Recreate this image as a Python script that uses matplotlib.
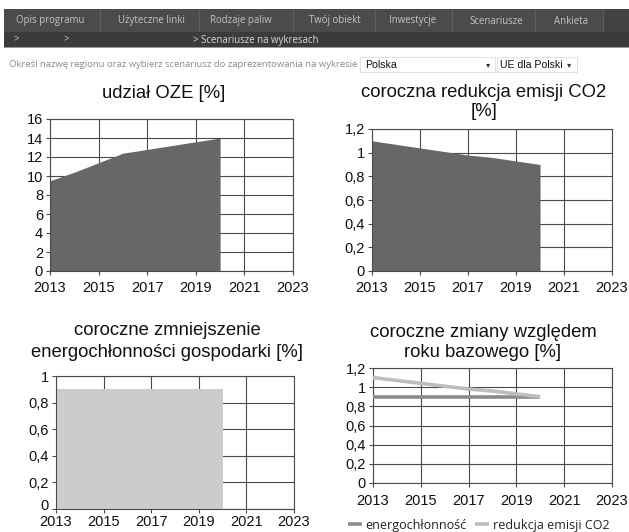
import matplotlib
matplotlib.use("Agg")
import matplotlib.pyplot as plt
from matplotlib.patches import Rectangle
from matplotlib.transforms import ScaledTranslation

# ---------------- data ----------------
years = [2013, 2014, 2015, 2016, 2017, 2018, 2019, 2020]
oze_share = [9.5, 10.4, 11.4, 12.4, 12.8, 13.2, 13.6, 14.0]
co2_reduction = [1.10, 1.07, 1.04, 1.01, 0.98, 0.96, 0.93, 0.90]
energy_intensity = [0.90, 0.90, 0.90, 0.90, 0.90, 0.90, 0.90, 0.90]

x_ticks = [2013, 2015, 2017, 2019, 2021, 2023]
y_ticks_oze = [0, 2, 4, 6, 8, 10, 12, 14, 16]
y_ticks_co2 = [0, 0.2, 0.4, 0.6, 0.8, 1.0, 1.2]
y_labels_co2 = ["0", "0,2", "0,4", "0,6", "0,8", "1", "1,2"]
y_ticks_en = [0, 0.2, 0.4, 0.6, 0.8, 1.0]
y_labels_en = ["0", "0,2", "0,4", "0,6", "0,8", "1"]

titles = ["udział OZE [%]",
          "coroczna redukcja emisji CO2\n[%]",
          "coroczne zmniejszenie\nenergochłonności gospodarki [%]",
          "coroczne zmiany względem\nroku bazowego [%]"]
legend_labels = ["energochłonność", "redukcja emisji CO2"]

menu_items = ["Opis programu", "Użyteczne linki", "Rodzaje paliw", "Twój obiekt",
              "Inwestycje", "Scenariusze", "Ankieta"]
breadcrumb = "> Scenariusze na wykresach"
prompt = "Określ nazwę regionu oraz wybierz scenariusz do zaprezentowania na wykresie"
region = "Polska"
scenario = "UE dla Polski"

# ---------------- layout helpers ----------------
W, H = 629, 532
fig = plt.figure(figsize=(W / 100, H / 100), dpi=100)
fig.patch.set_facecolor("white")


def rect(l, t, r, b):
    return [l / W, 1 - b / H, (r - l) / W, (b - t) / H]


def fx(x):
    return x / W


def fy(y):
    return 1 - y / H


def frect(l, t, r, b, **kw):
    fig.patches.append(Rectangle((fx(l), fy(b)), (r - l) / W, (b - t) / H,
                                 transform=fig.transFigure, figure=fig, **kw))


UI = ["Open Sans", "DejaVu Sans"]
ARIAL = ["Liberation Sans", "DejaVu Sans"]

# ---------------- header ----------------
frect(4, 9, 629, 32, facecolor="#4b4b4b", edgecolor="none")
frect(603, 9, 629, 32, facecolor="#424242", edgecolor="none")
frect(4, 32, 629, 47, facecolor="#3b3b3b", edgecolor="none")
frect(4, 46.5, 629, 47.5, facecolor="#9a9a9a", edgecolor="none")
seps = [4, 100, 199, 293, 375, 452, 535, 603]
for s in seps[1:]:
    frect(s - 0.5, 9, s + 0.5, 32, facecolor="#5c5c5c", edgecolor="none")
centers = [50, 151, 241, 335, 413, 496, 571]
for name, cx in zip(menu_items, centers):
    fig.text(fx(cx), fy(21), name, ha="center", va="center", fontsize=6.9,
             color="#c4c4c4", family=UI)
fig.text(fx(14), fy(40), ">", ha="left", va="center", fontsize=6.9, color="#c4c4c4", family=UI)
fig.text(fx(64), fy(40), ">", ha="left", va="center", fontsize=6.9, color="#c4c4c4", family=UI)
fig.text(fx(193), fy(40), breadcrumb, ha="left", va="center", fontsize=6.9,
         color="#d8d8d8", family=UI)

fig.text(fx(9), fy(64.5), prompt, ha="left", va="center", fontsize=6.8,
         color="#8a8a8a", family=UI)
frect(360, 57, 495, 72, facecolor="white", edgecolor="#e2e2e2", linewidth=0.8)
fig.text(fx(365), fy(64.5), region, ha="left", va="center", fontsize=7.6,
         color="#111111", family=ARIAL)
fig.text(fx(488), fy(64.5), "▾", ha="center", va="center", fontsize=6,
         color="#333333", family=["DejaVu Sans"])
frect(497, 57, 577, 72, facecolor="white", edgecolor="#e2e2e2", linewidth=0.8)
fig.text(fx(500), fy(64.5), scenario, ha="left", va="center", fontsize=7.6,
         color="#111111", family=ARIAL)
fig.text(fx(569), fy(64.5), "▾", ha="center", va="center", fontsize=6,
         color="#333333", family=["DejaVu Sans"])

# ---------------- charts ----------------
GRID = "#4a4a4a"


def style_axes(ax, yticks, ylabels, ymax, xpad):
    ax.set_xlim(2013, 2023)
    ax.set_ylim(0, ymax)
    ax.set_xticks(x_ticks)
    ax.set_xticklabels([str(t) for t in x_ticks])
    ax.set_yticks(yticks)
    ax.set_yticklabels(ylabels)
    ax.grid(True, color=GRID, linewidth=0.8, zorder=0)
    ax.set_axisbelow(True)
    for sp in ax.spines.values():
        sp.set_color(GRID)
        sp.set_linewidth(0.8)
    ax.tick_params(axis="both", direction="out", length=3, width=0.8, color=GRID,
                   labelsize=10.5, labelcolor="#111111")
    ax.tick_params(axis="x", pad=xpad)
    ax.tick_params(axis="y", pad=2)
    for lab in ax.get_xticklabels() + ax.get_yticklabels():
        lab.set_family(ARIAL)


ax1 = fig.add_axes(rect(50, 119, 293, 271))
ax1.fill_between(years, oze_share, 0, color="#676767", linewidth=0, zorder=2)
style_axes(ax1, y_ticks_oze, [str(v) for v in y_ticks_oze], 16, 4)
fig.text(fx(164), fy(93), titles[0], ha="center", va="center", fontsize=13.3,
         color="#111111", family=ARIAL)

ax2 = fig.add_axes(rect(372, 129, 612, 271))
ax2.fill_between(years, co2_reduction, 0, color="#676767", linewidth=0, zorder=2)
style_axes(ax2, y_ticks_co2, y_labels_co2, 1.2, 4)
fig.text(fx(484), fy(102), titles[1], ha="center", va="center", fontsize=13.3,
         color="#111111", family=ARIAL, linespacing=1.15)

ax3 = fig.add_axes(rect(56, 376, 294, 509))
ax3.fill_between(years, energy_intensity, 0, color="#cccccc", linewidth=0, zorder=2)
style_axes(ax3, y_ticks_en, y_labels_en, 1.0, 1.5)
# nudge the bottom y label up a little so it does not collide with "2013"
ylab0 = ax3.get_yticklabels()[0]
ylab0.set_transform(ylab0.get_transform() + ScaledTranslation(0, 3 / 72, fig.dpi_scale_trans))
fig.text(fx(167), fy(341.5), titles[2], ha="center", va="center", fontsize=13.3,
         color="#111111", family=ARIAL, linespacing=1.33)

ax4 = fig.add_axes(rect(373, 368, 612, 483))
ax4.plot(years, energy_intensity, color="#8c8c8c", linewidth=2.6, zorder=3,
         label=legend_labels[0], solid_capstyle="butt")
ax4.plot(years, co2_reduction, color="#bdbdbd", linewidth=2.6, zorder=3,
         label=legend_labels[1], solid_capstyle="butt")
style_axes(ax4, y_ticks_co2, y_labels_co2, 1.2, 5)
fig.text(fx(483), fy(342.5), titles[3], ha="center", va="center", fontsize=13.3,
         color="#111111", family=ARIAL, linespacing=1.22)

leg = fig.legend(loc="center left", bbox_to_anchor=(fx(348), fy(525)), ncol=2,
                 frameon=False, prop={"family": UI, "size": 9},
                 handlelength=1.1, handletextpad=0.3, columnspacing=0.7,
                 borderpad=0, borderaxespad=0)
for t in leg.get_texts():
    t.set_color("#222222")

fig.savefig("out.png", dpi=100)
